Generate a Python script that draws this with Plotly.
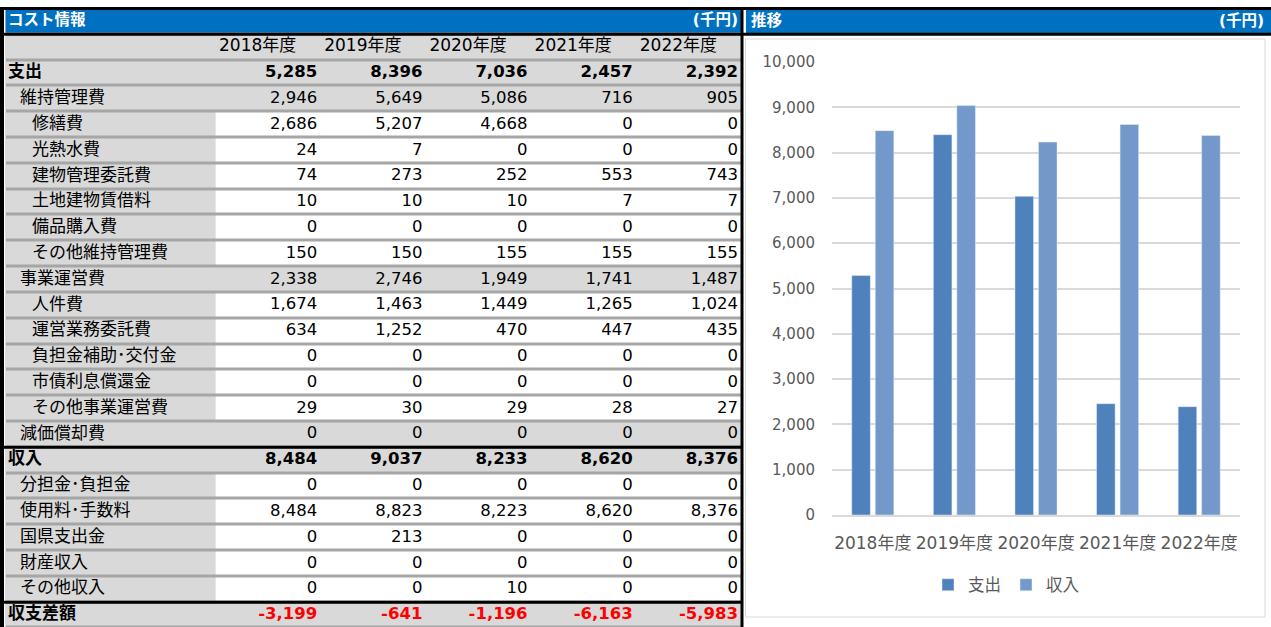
import plotly.graph_objects as go

W, H = 1271, 627
FONT = "DejaVu Sans, Noto Sans CJK JP, sans-serif"
BLUE = "#0070c0"
SHADE = "#d9d9d9"
RULE = "#a6a6a6"
AXIS_TEXT = "#595959"

YEARS = ["2018年度", "2019年度", "2020年度", "2021年度", "2022年度"]

LABELS = [
    "支出", "維持管理費", "修繕費", "光熱水費", "建物管理委託費", "土地建物賃借料",
    "備品購入費", "その他維持管理費", "事業運営費", "人件費", "運営業務委託費",
    "負担金補助･交付金", "市債利息償還金", "その他事業運営費", "減価償却費",
    "収入", "分担金･負担金", "使用料･手数料", "国県支出金", "財産収入", "その他収入",
    "収支差額",
]
# indent level of the label (0 = bold total row)
INDENT = [0, 1, 2, 2, 2, 2, 2, 2, 1, 2, 2, 2, 2, 2, 1, 0, 1, 1, 1, 1, 1, 0]
# 1 = detail row with white value cells
DETAIL = [0, 0, 1, 1, 1, 1, 1, 1, 0, 1, 1, 1, 1, 1, 0, 0, 1, 1, 1, 1, 1, 0]

V2018 = [5285, 2946, 2686, 24, 74, 10, 0, 150, 2338, 1674, 634, 0, 0, 29, 0, 8484, 0, 8484, 0, 0, 0, -3199]
V2019 = [8396, 5649, 5207, 7, 273, 10, 0, 150, 2746, 1463, 1252, 0, 0, 30, 0, 9037, 0, 8823, 213, 0, 0, -641]
V2020 = [7036, 5086, 4668, 0, 252, 10, 0, 155, 1949, 1449, 470, 0, 0, 29, 0, 8233, 0, 8223, 0, 0, 10, -1196]
V2021 = [2457, 716, 0, 0, 553, 7, 0, 155, 1741, 1265, 447, 0, 0, 28, 0, 8620, 0, 8620, 0, 0, 0, -6163]
V2022 = [2392, 905, 0, 0, 743, 7, 0, 155, 1487, 1024, 435, 0, 0, 27, 0, 8376, 0, 8376, 0, 0, 0, -5983]

COLUMNS = [V2018, V2019, V2020, V2021, V2022]
EXPENSE = [col[LABELS.index("支出")] for col in COLUMNS]
INCOME = [col[LABELS.index("収入")] for col in COLUMNS]

# table geometry (x unit = one value column, y unit = one row)
COL_PX = 105.2
X0_PX = 5.6
ROW_PX = 25.81
N_ROWS = len(LABELS) + 2  # title bar + year header
x_range = [-X0_PX / COL_PX, (746 - X0_PX) / COL_PX]
y_top = -0.5 - 8.5 / ROW_PX
y_range = [y_top + H / ROW_PX, y_top]
indent_x = [(px - X0_PX) / COL_PX for px in (8, 20, 32)]
pad = 4 / COL_PX

fig = go.Figure()

# cell backgrounds: 0 grey, 1 white, 2 blue
z = [[2] * 6, [0] * 6] + [[0] + [1 if d else 0] * 5 for d in DETAIL]
fig.add_trace(go.Heatmap(
    z=z, x=[0, 2, 3, 4, 5, 6, 7], y=list(range(N_ROWS)),
    colorscale=[[0, SHADE], [0.5, "#ffffff"], [1, BLUE]], zmin=0, zmax=2,
    showscale=False, ygap=3, hoverinfo="skip", xaxis="x", yaxis="y",
))

rows = list(range(2, N_ROWS))


def bold(s, on):
    return f"<b>{s}</b>" if on else s


fig.add_trace(go.Scatter(
    x=[indent_x[i] for i in INDENT], y=rows, mode="text",
    text=[bold(t, i == 0) for t, i in zip(LABELS, INDENT)],
    textposition="middle right", textfont=dict(family=FONT, size=17, color="#000000"),
    hoverinfo="skip", showlegend=False, xaxis="x", yaxis="y",
))

for j, col in enumerate(COLUMNS):
    fig.add_trace(go.Scatter(
        x=[3 + j - pad] * len(col), y=rows, mode="text",
        text=[bold(f"{v:,}", i == 0) for v, i in zip(col, INDENT)],
        textposition="middle left",
        textfont=dict(family=FONT, size=16.5, color=["#ff0000" if v < 0 else "#000000" for v in col]),
        hoverinfo="skip", showlegend=False, xaxis="x", yaxis="y",
    ))

fig.add_trace(go.Scatter(
    x=[2 + j + 3 / COL_PX for j in range(len(YEARS))], y=[1] * len(YEARS), mode="text",
    text=YEARS, textposition="middle right",
    textfont=dict(family=FONT, size=17, color="#000000"),
    hoverinfo="skip", showlegend=False, xaxis="x", yaxis="y",
))

fig.add_trace(go.Scatter(
    x=[indent_x[0]], y=[0], mode="text", text=["<b>コスト情報</b>"], textposition="middle right",
    textfont=dict(family=FONT, size=15.5, color="#ffffff"),
    hoverinfo="skip", showlegend=False, xaxis="x", yaxis="y",
))
fig.add_trace(go.Scatter(
    x=[7 - pad], y=[0], mode="text", text=["<b>(千円)</b>"], textposition="middle left",
    textfont=dict(family=FONT, size=15.5, color="#ffffff"),
    hoverinfo="skip", showlegend=False, xaxis="x", yaxis="y",
))

# bar chart
fig.add_trace(go.Bar(x=YEARS, y=EXPENSE, name="支出", marker_color="#4f81bd",
                     xaxis="x2", yaxis="y2", hovertemplate="%{x}<br>支出: %{y:,}<extra></extra>"))
fig.add_trace(go.Bar(x=YEARS, y=INCOME, name="収入", marker_color="#7399ca",
                     xaxis="x2", yaxis="y2", hovertemplate="%{x}<br>収入: %{y:,}<extra></extra>"))

black = dict(color="#000000", width=3)
shapes = [
    dict(type="rect", xref="x", yref="y", x0=0, x1=7, y0=-0.5, y1=N_ROWS - 0.5,
         fillcolor=RULE, line_width=0, layer="below"),
    dict(type="rect", xref="paper", yref="y", x0=746 / W, x1=1, y0=-0.5, y1=0.5,
         fillcolor=BLUE, line_width=0),
    dict(type="rect", xref="paper", yref="paper", x0=745.5 / W, x1=1265 / W,
         y0=1 - 617 / H, y1=1 - 39 / H, line=dict(color=SHADE, width=1)),
    dict(type="line", xref="paper", yref="y", x0=0, x1=1, y0=-0.5, y1=-0.5, line=black),
    dict(type="line", xref="paper", yref="y", x0=0, x1=1, y0=0.5, y1=0.5, line=black),
    dict(type="line", xref="paper", yref="y", x0=2 / W, x1=2 / W, y0=-0.5, y1=N_ROWS,
         line=dict(color="#000000", width=4)),
    dict(type="line", xref="x", yref="y", x0=7, x1=7, y0=-0.5, y1=N_ROWS, line=black),
]
for name in ("収入", "収支差額"):
    yb = LABELS.index(name) + 2 - 0.5
    shapes.append(dict(type="line", xref="x", yref="y", x0=x_range[0], x1=7, y0=yb, y1=yb, line=black))

fig.add_annotation(xref="paper", yref="y", x=749 / W, y=0, text="<b>推移</b>", showarrow=False,
                   xanchor="left", font=dict(family=FONT, size=15.5, color="#ffffff"))
fig.add_annotation(xref="paper", yref="y", x=1266 / W, y=0, text="<b>(千円)</b>", showarrow=False,
                   xanchor="right", font=dict(family=FONT, size=15.5, color="#ffffff"))

fig.update_layout(
    width=W, height=H,
    margin=dict(l=0, r=0, t=0, b=0, autoexpand=False),
    paper_bgcolor="#ffffff", plot_bgcolor="#ffffff",
    font=dict(family=FONT, color=AXIS_TEXT),
    barmode="group", bargap=0.424, bargroupgap=0.21,
    shapes=shapes,
    xaxis=dict(domain=[0, 746 / W], range=x_range, visible=False, fixedrange=True, automargin=False),
    yaxis=dict(domain=[0, 1], range=y_range, visible=False, fixedrange=True, automargin=False),
    xaxis2=dict(domain=[832 / W, 1240 / W], anchor="y2", showline=True, linecolor=SHADE,
                linewidth=2, tickangle=0, ticklabelstandoff=12, fixedrange=True, automargin=False,
                tickfont=dict(size=17, color=AXIS_TEXT)),
    yaxis2=dict(domain=[1 - 515 / H, 1 - 62 / H], anchor="x2", range=[0, 10000], dtick=1000,
                tickformat=",", gridcolor=SHADE, gridwidth=1.5, zeroline=False, automargin=False,
                ticklabelstandoff=16, fixedrange=True, tickfont=dict(size=15, color=AXIS_TEXT)),
    legend=dict(orientation="h", x=1006 / W, xanchor="center", y=1 - 585 / H, yanchor="middle",
                itemwidth=30, font=dict(size=16.5, color=AXIS_TEXT)),
)

fig.write_html("out.html", config={"displayModeBar": False},
               post_script="document.body.style.margin='0';document.body.style.overflow='hidden';")
